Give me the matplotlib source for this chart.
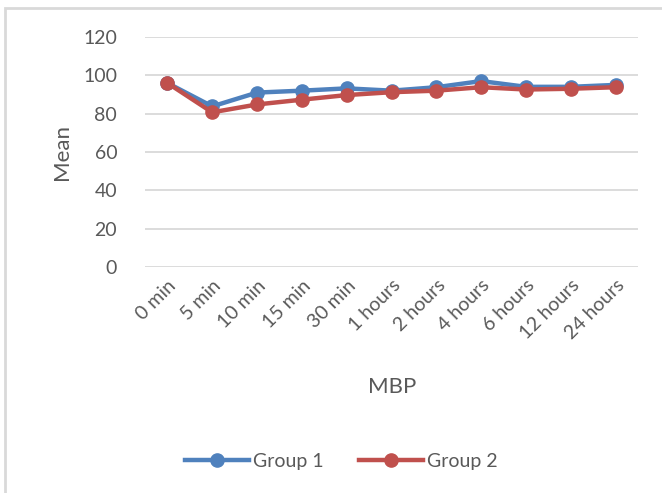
import matplotlib
matplotlib.use("Agg")
import matplotlib.pyplot as plt
from matplotlib.patches import Rectangle

plt.rcParams['font.family'] = ['Lato', 'DejaVu Sans']

categories = ["0 min", "5 min", "10 min", "15 min", "30 min", "1 hours",
              "2 hours", "4 hours", "6 hours", "12 hours", "24 hours"]
group1 = [96, 83.8, 91, 92, 93.2, 92, 93.8, 97, 94, 94, 95]
group2 = [96, 80.7, 84.8, 87.3, 89.7, 91.2, 92, 93.8, 92.6, 93, 93.8]
y_ticks = [0, 20, 40, 60, 80, 100, 120]

text_color = "#595959"
grid_color = "#d9d9d9"
blue = "#4f81bd"
red = "#c0504d"

fig = plt.figure(figsize=(6.62, 4.93), dpi=100)
W, H = 662, 493
ax = fig.add_axes([145 / W, 1 - 267 / H, (638 - 145) / W, (267 - 37) / H])

# chart border
fig.patches.append(Rectangle((5 / W, -0.05), 1.1, 1 - 8 / H + 0.05,
                             transform=fig.transFigure, fill=False,
                             edgecolor=grid_color, linewidth=2))

x = list(range(len(categories)))
ax.plot(x, group1, color=blue, linewidth=3.2, marker='o', markersize=9.5,
        label="Group 1", zorder=3)
ax.plot(x, group2, color=red, linewidth=3.2, marker='o', markersize=9.5,
        label="Group 2", zorder=4)

ax.set_xlim(-0.5, len(categories) - 0.5)
ax.set_ylim(0, 120)
ax.set_yticks(y_ticks)
ax.yaxis.grid(True, color=grid_color, linewidth=1.3)
ax.set_axisbelow(True)
for s in ax.spines.values():
    s.set_visible(False)
ax.tick_params(axis='both', length=0, colors=text_color, labelsize=14)
ax.tick_params(axis='y', pad=20)
ax.set_xticks(x)
ax.set_xticklabels(categories, rotation=45, ha='right', va='top',
                   rotation_mode='anchor')
ax.tick_params(axis='x', pad=7)

fig.text(62 / W, 1 - 152 / H, "Mean", rotation=90, ha='center', va='center',
         fontsize=16, color=text_color)
fig.text(392 / W, 1 - 387 / H, "MBP", ha='center', va='center',
         fontsize=16, color=text_color)

leg = fig.legend(loc='center', bbox_to_anchor=(341 / W, 1 - 461 / H), ncol=2,
                 frameon=False, fontsize=14, handlelength=3.3,
                 columnspacing=1.8, handletextpad=0.2)
for t in leg.get_texts():
    t.set_color(text_color)

fig.savefig("out.png", dpi=100)
